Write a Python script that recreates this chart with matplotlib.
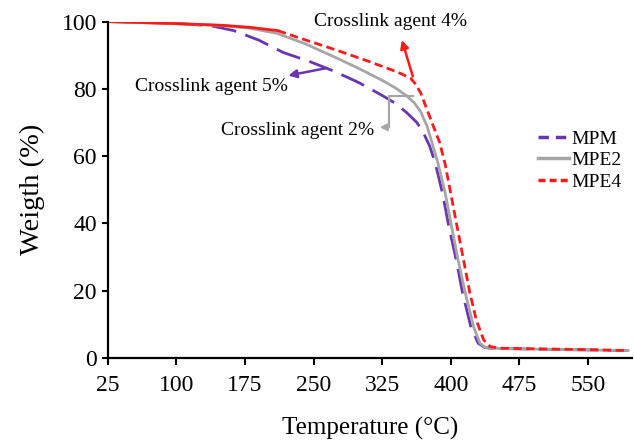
import numpy as np
import matplotlib.pyplot as plt
from matplotlib.lines import Line2D

plt.rcParams['font.family'] = ['Liberation Serif', 'DejaVu Serif']

# TGA curves, temperature (°C) vs remaining weight (%)
t_mpm = [25, 60, 100, 137, 163, 190, 217, 245, 272, 300, 326, 340, 352, 363, 370, 377, 383, 391, 398, 406, 413, 422, 430, 437, 442, 460, 500, 550, 594]
w_mpm = [100, 99.8, 99.4, 98.8, 97.3, 94.5, 90.8, 88.2, 85.3, 81.8, 77.9, 75.6, 72.9, 70.0, 67.0, 63.0, 58.0, 49.0, 39.0, 29.2, 19.3, 9.3, 4.4, 3.2, 2.9, 2.8, 2.6, 2.4, 2.2]

t_mpe2 = [25, 100, 150, 181, 210, 240, 272, 300, 326, 340, 352, 360, 367, 374, 379, 386, 394, 401, 408, 416, 425, 432, 437, 443, 460, 500, 550, 594]
w_mpe2 = [100, 99.4, 98.8, 98.0, 96.5, 93.5, 89.6, 86.0, 82.4, 80.2, 77.9, 75.9, 73.3, 69.0, 64.5, 58.0, 49.0, 39.0, 29.2, 19.3, 9.3, 4.4, 3.3, 2.9, 2.8, 2.6, 2.4, 2.2]

t_mpe4 = [25, 100, 150, 180, 211, 236, 272, 309, 334, 345, 356, 361, 367, 374, 381, 388, 394, 400, 407, 414, 421, 428, 436, 443, 454, 500, 550, 594]
w_mpe4 = [100, 99.4, 98.9, 98.3, 97.3, 95.0, 91.8, 88.3, 85.8, 84.6, 83.2, 81.6, 78.9, 73.9, 68.9, 64.0, 57.5, 49.0, 39.0, 29.2, 19.3, 11.3, 5.4, 3.4, 2.9, 2.7, 2.5, 2.2]

x_ticks = [25, 100, 175, 250, 325, 400, 475, 550]
y_ticks = [0, 20, 40, 60, 80, 100]

purple = '#6a35b0'
gray = '#a6a6a6'
red = '#ff1a1a'

fig = plt.figure(figsize=(6.34, 4.45), dpi=100)
ax = fig.add_axes([0.170, 0.1955, 0.8265, 0.756])

ax.plot(t_mpm, w_mpm, color=purple, lw=2.0, dashes=(9, 3.5), label='MPM')
ax.plot(t_mpe2, w_mpe2, color=gray, lw=2.0, label='MPE2')
ax.plot(t_mpe4[:5], w_mpe4[:5], color=red, lw=2.0)
ax.plot(t_mpe4[4:], w_mpe4[4:], color=red, lw=2.0, dashes=(3, 1.6))

ax.set_xlim(25, 598)
ax.set_ylim(0, 100)
ax.set_xticks(x_ticks)
ax.set_yticks(y_ticks)
ax.tick_params(labelsize=17, width=1.5)
ax.tick_params(axis='x', length=5, pad=7.5)
ax.tick_params(axis='y', length=4.3, pad=3.5)
ax.spines['top'].set_visible(False)
ax.spines['right'].set_visible(False)
ax.spines['left'].set_linewidth(1.6)
ax.spines['bottom'].set_linewidth(1.6)

ax.set_xlabel('Temperature (°C)', fontsize=18, labelpad=15)
ax.set_ylabel('Weigth (%)', fontsize=20.5, labelpad=12)

# annotations pointing at each curve
ax.text(334, 100.1, 'Crosslink agent 4%', fontsize=14, ha='center', va='center', clip_on=False)
ax.annotate('', xy=(345.7, 95.3), xytext=(359.5, 82.9),
            arrowprops=dict(arrowstyle='-|>', color=red, lw=1.8, mutation_scale=12))

ax.text(138, 80.8, 'Crosslink agent 5%', fontsize=14, ha='center', va='center')
ax.annotate('', xy=(219.3, 83.8), xytext=(266.6, 86.3),
            arrowprops=dict(arrowstyle='-|>', color=purple, lw=1.8, mutation_scale=12))

ax.text(232, 67.7, 'Crosslink agent 2%', fontsize=14, ha='center', va='center')
ax.plot([359, 333, 333], [77.9, 77.9, 68.6], color=gray, lw=1.6)
ax.annotate('', xy=(319.4, 68.6), xytext=(333.5, 68.6),
            arrowprops=dict(arrowstyle='-|>', color=gray, lw=1.6, mutation_scale=10))

handles = [Line2D([], [], color=purple, lw=2.5, dashes=(3, 2)),
           Line2D([], [], color=gray, lw=2.5),
           Line2D([], [], color=red, lw=2.5, dashes=(2, 1.2))]
fig.legend(handles, ['MPM', 'MPE2', 'MPE4'], loc='upper left',
           bbox_to_anchor=(538 / 634, 1 - 130 / 445), frameon=False,
           fontsize=14, handlelength=1.6, handletextpad=0.1,
           labelspacing=0.2, borderpad=0, borderaxespad=0)

fig.savefig('out.png', dpi=100)
